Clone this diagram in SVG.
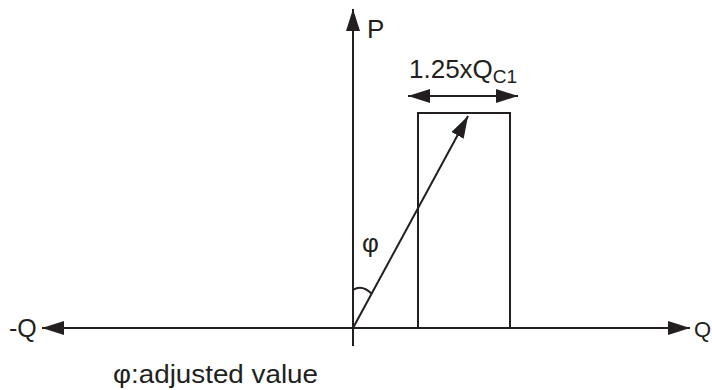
<svg xmlns="http://www.w3.org/2000/svg" width="712" height="390" viewBox="0 0 712 390">
<style>
.ln{stroke:#231f20;stroke-width:2;fill:none}
.t{font-family:"Liberation Sans",Arial,sans-serif;fill:#231f20}
</style>
<defs>
<marker id="ahb" markerWidth="22" markerHeight="14" refX="22" refY="7" orient="auto-start-reverse" markerUnits="userSpaceOnUse" viewBox="0 0 22 14">
<path d="M0,0 L22,7 L0,14 Z" fill="#231f20"/>
</marker>
</defs>
<g id="connectors">
<line id="q-axis" class="ln" x1="42" y1="328" x2="690" y2="328" marker-start="url(#ahb)" marker-end="url(#ahb)"/>
<line id="p-axis" class="ln" x1="353" y1="346" x2="353" y2="9" marker-end="url(#ahb)"/>
<line id="vector" class="ln" x1="353" y1="328" x2="468" y2="116" marker-end="url(#ahb)"/>
<line id="width-arrow" class="ln" x1="408" y1="96" x2="518" y2="96" marker-start="url(#ahb)" marker-end="url(#ahb)"/>
<path id="angle" class="ln" d="M353,290 Q362,284 371.6,293.7"/>
</g>
<g id="range-box">
<rect class="ln" x="418" y="113" width="92" height="215"/>
</g>
<g id="labels">
<text class="t" x="367" y="38" font-size="26">P</text>
<text class="t" x="409" y="78" font-size="26">1.25xQ<tspan font-size="19" dy="5">C1</tspan></text>
<text class="t" x="362" y="252" font-size="26">φ</text>
<text class="t" x="9" y="337" font-size="25">-Q</text>
<text class="t" x="694" y="337" font-size="22">Q</text>
<text class="t" x="113" y="383" font-size="26" textLength="205" lengthAdjust="spacingAndGlyphs">φ:adjusted value</text>
</g>
</svg>
